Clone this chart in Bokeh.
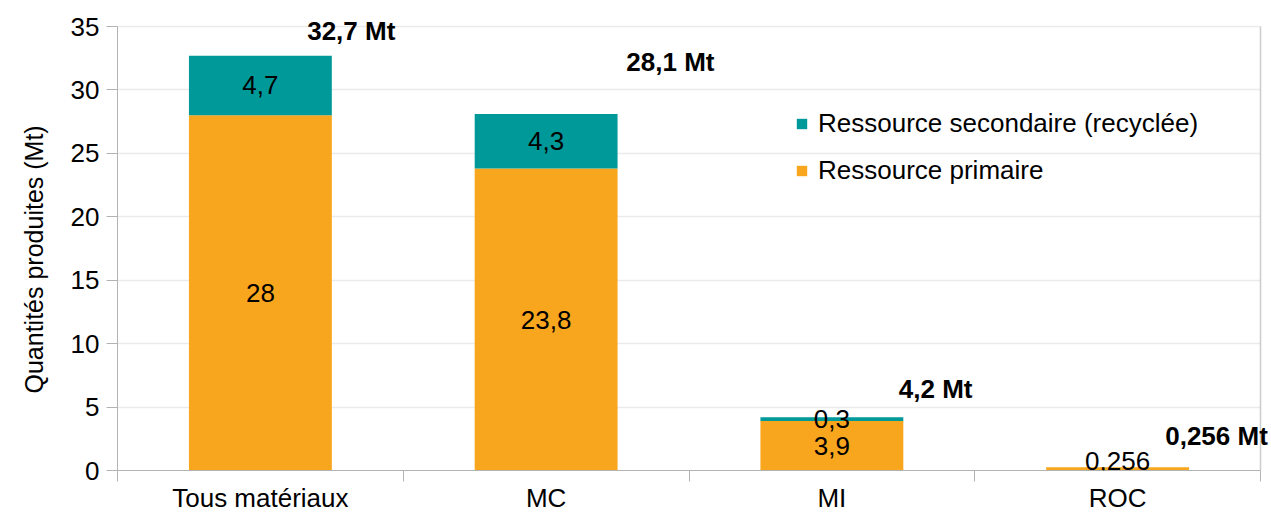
from bokeh.plotting import figure
from bokeh.models import (ColumnDataSource, FixedTicker, Legend, LegendItem,
                          Label, Range1d, Title, Grid)
from bokeh.embed import file_html
from bokeh.resources import INLINE

# Production par catégorie de matériaux (Mt)
categories = ["Tous matériaux", "MC", "MI", "ROC"]
primaire = [28, 23.8, 3.9, 0.256]
secondaire = [4.7, 4.3, 0.3, 0]
series_names = ["Ressource secondaire (recyclée)", "Ressource primaire"]
y_ticks = [0, 5, 10, 15, 20, 25, 30, 35]
y_label = "Quantités produites (Mt)"

# placement of the bold total labels relative to the bar top (category units, Mt)
total_dx = [0.318, 0.435, 0.363, 0.346]
total_dy = [1.94, 4.14, 2.26, 2.5]

TEAL = "#009999"
ORANGE = "#f8a61d"
FONT = "Liberation Sans"
AXIS_GREY = "#b3b3b3"
FS = "26px"

# page geometry (px): the axes span AXIS_* while the drawing frame is a bit
# larger so that the outer labels are not cut off
W, H = 1271, 515
AXIS_LEFT, AXIS_RIGHT, AXIS_TOP, AXIS_BOTTOM = 117, 1260, 26, 470
FRAME_TOP = 8
Y_MAX = 35
N = len(categories)


def fr(v):
    return f"{round(v, 3):g}".replace(".", ",")


xs = [i + 0.5 for i in range(N)]
totals = [round(a + b, 3) for a, b in zip(primaire, secondaire)]

src = ColumnDataSource(dict(x=xs, prim=primaire, sec=secondaire, top=totals))

x_end = N * (W - AXIS_LEFT) / (AXIS_RIGHT - AXIS_LEFT)
y_end = Y_MAX * (AXIS_BOTTOM - FRAME_TOP) / (AXIS_BOTTOM - AXIS_TOP)

p = figure(width=W, height=H, x_range=Range1d(0, x_end), y_range=Range1d(0, y_end),
           output_backend="svg", toolbar_location=None,
           min_border_left=AXIS_LEFT, min_border_right=0,
           min_border_top=FRAME_TOP, min_border_bottom=H - AXIS_BOTTOM)
p.outline_line_color = None
p.background_fill_color = "white"

r_prim = p.vbar(x="x", bottom=0, top="prim", width=0.5, source=src,
                fill_color=ORANGE, line_color=None)
r_sec = p.vbar(x="x", bottom="prim", top="top", width=0.5, source=src,
               fill_color=TEAL, line_color=None)

# x axis: category names at centres, tick marks on the boundaries
p.xaxis.bounds = (0, N)
p.xaxis.ticker = FixedTicker(ticks=xs, minor_ticks=list(range(N + 1)))
p.xaxis.major_label_overrides = {x: c for x, c in zip(xs, categories)}
p.xaxis.major_tick_out = 0
p.xaxis.major_tick_in = 0
p.xaxis.minor_tick_out = 11
p.xaxis.minor_tick_in = 0
p.xaxis.minor_tick_line_color = AXIS_GREY
p.xaxis.axis_line_color = AXIS_GREY
p.xaxis.major_label_standoff = 1
p.xaxis.major_label_text_font = FONT
p.xaxis.major_label_text_font_size = FS
p.xaxis.major_label_text_color = "black"

p.yaxis.bounds = (0, Y_MAX)
p.yaxis.ticker = FixedTicker(ticks=y_ticks, minor_ticks=[])
p.yaxis.major_tick_out = 11
p.yaxis.major_tick_in = 0
p.yaxis.major_tick_line_color = AXIS_GREY
p.yaxis.axis_line_color = AXIS_GREY
p.yaxis.major_label_standoff = 7
p.yaxis.major_label_text_font = FONT
p.yaxis.major_label_text_font_size = FS
p.yaxis.major_label_text_color = "black"

# y axis title, in its own panel to the left of the tick labels
p.add_layout(Title(text=y_label, align="left", offset=AXIS_BOTTOM - 393,
                   vertical_align="top",
                   text_font=FONT, text_font_size="25px",
                   text_font_style="normal", text_color="black", standoff=36),
             "left")

p.xgrid.grid_line_color = None
p.ygrid.grid_line_color = "#ebebeb"
p.ygrid.grid_line_width = 1.5
if "cross_bounds" in Grid.properties():
    p.ygrid.cross_bounds = (0, N)

# right border of the plot area
p.segment(x0=[N], y0=[0], x1=[N], y1=[Y_MAX], line_color="#cccccc", line_width=1.5)


def add_text(x, y, text, bold=False):
    p.add_layout(Label(x=x, y=y, text=text, text_align="center",
                       text_baseline="middle", text_font=FONT,
                       text_font_size=FS, text_color="black",
                       text_font_style="bold" if bold else "normal"))


# values inside each segment (kept clear of the x axis line)
MIN_LABEL_Y = 0.75
for x, a, b in zip(xs, primaire, secondaire):
    if a:
        add_text(x, max(a / 2, MIN_LABEL_Y), fr(a))
    if b:
        add_text(x, a + b / 2, fr(b))

# bold totals next to each bar
for x, t, dx, dy in zip(xs, totals, total_dx, total_dy):
    add_text(x + dx, t + dy, fr(t) + " Mt", bold=True)

legend = Legend(items=[LegendItem(label=series_names[0], renderers=[r_sec]),
                       LegendItem(label=series_names[1], renderers=[r_prim])],
                location=(678, 284), orientation="vertical",
                background_fill_alpha=0, border_line_alpha=0,
                padding=0, margin=0, spacing=16,
                glyph_width=13, glyph_height=13, label_standoff=10,
                label_text_font=FONT, label_text_font_size=FS,
                label_text_color="black")
p.add_layout(legend)

open("out.html", "w").write(file_html(p, INLINE))
